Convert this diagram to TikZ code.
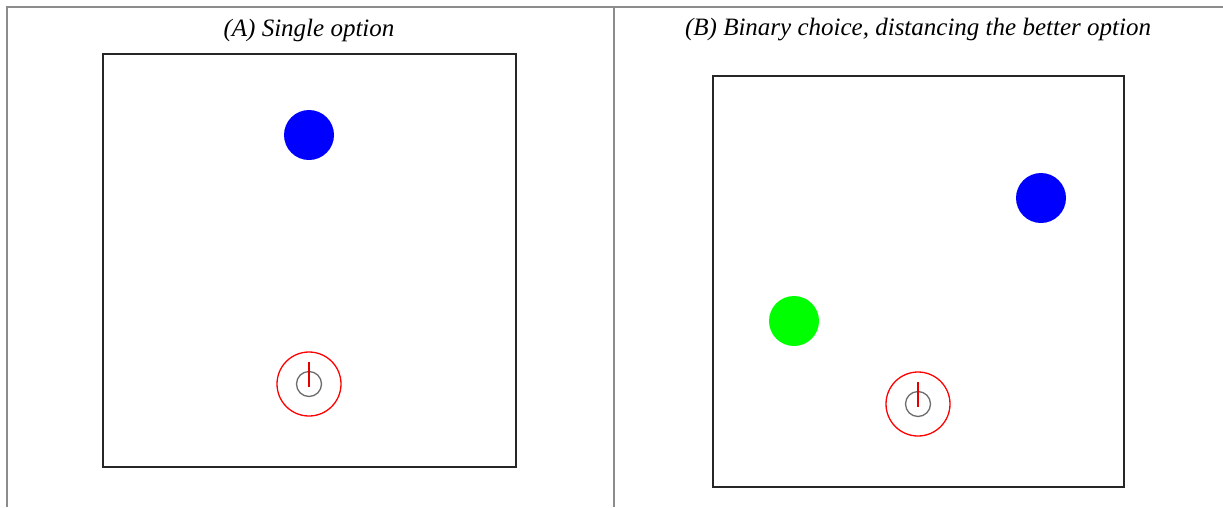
\documentclass[tikz,border=0pt]{standalone}
\usepackage{fontspec}
\setmainfont{Liberation Serif}
\begin{document}
\begin{tikzpicture}[x=1pt,y=-1pt,
  frame/.style={draw=gray!90, line width=1.3pt},
  arena/.style={draw=black!85, line width=1.6pt},
  option/.style={circle, inner sep=0pt, minimum size=50pt},
  agentring/.style={circle, draw=red, line width=1.3pt, inner sep=0pt, minimum size=64pt},
  agentbody/.style={circle, draw=gray!85!black, line width=1.3pt, inner sep=0pt, minimum size=25pt},
  heading/.style={draw=red!90!black, line width=1.4pt},
  title/.style={font=\fontsize{25}{29}\selectfont\itshape}]
\useasboundingbox (0,0) rectangle (1223,507);
% table lines
\coordinate (tl) at (7,7);
\coordinate (tr) at (1223,7);
\coordinate (bl) at (7,507);
\coordinate (mt) at (614,7);
\coordinate (mb) at (614,507);
\draw[frame] (bl) -- (tl) -- (tr);
\draw[frame] (mt) -- (mb);
% titles
\node[title] (ta) at (309,30) {(A) Single option};
\node[title] (tb) at (918,30) {(B) Binary choice, distancing the better option};
% panel A
\draw[arena] (103,54) rectangle (516,467);
\node[option, fill=blue] (blueA) at (309,135) {};
\node[agentring] (ringA) at (309,384) {};
\node[agentbody] (bodyA) at (309,384) {};
\coordinate (hA1) at (309,387);
\coordinate (hA2) at (309,362);
\draw[heading] (hA1) -- (hA2);
% panel B
\draw[arena] (713,76) rectangle (1124,487);
\node[option, fill=blue] (blueB) at (1041,198) {};
\node[option, fill=green] (greenB) at (794,321) {};
\node[agentring] (ringB) at (918,404) {};
\node[agentbody] (bodyB) at (918,404) {};
\coordinate (hB1) at (918,407);
\coordinate (hB2) at (918,382);
\draw[heading] (hB1) -- (hB2);
\end{tikzpicture}
\end{document}
